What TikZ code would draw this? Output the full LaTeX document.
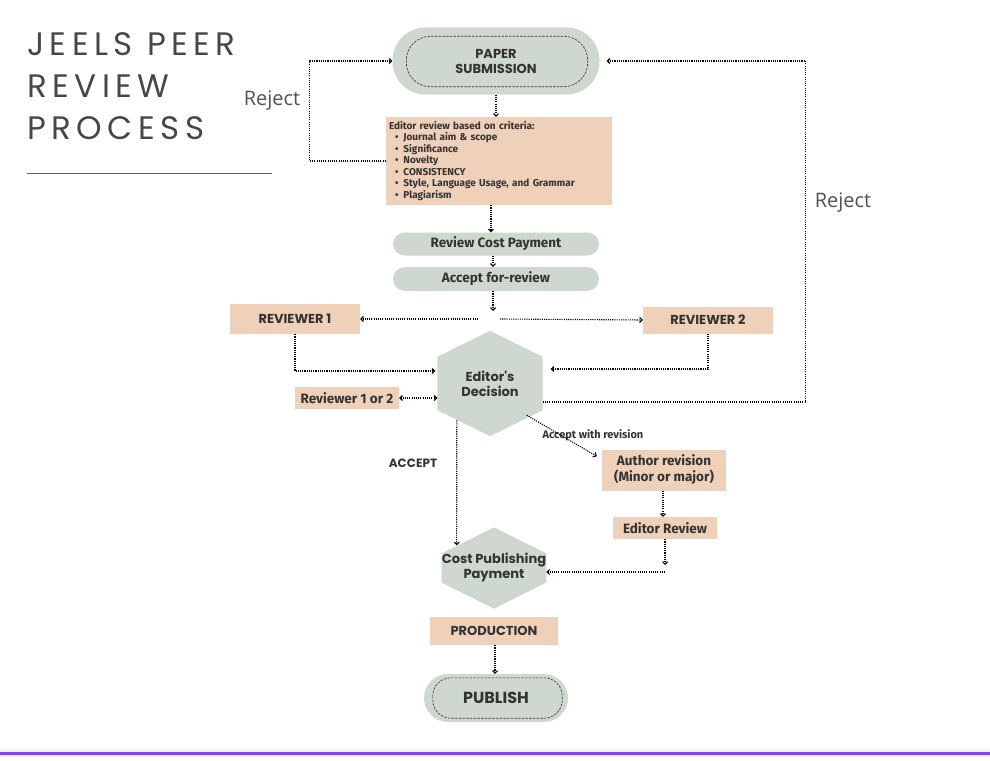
\documentclass[tikz,border=0pt]{standalone}
\usepackage{fontspec}
\setmainfont{Fira Sans}
\newfontfamily\headfont{Poppins}
\newfontfamily\titlefont{Poppins}[LetterSpace=17]
\newfontfamily\notefont{Open Sans}
\usetikzlibrary{positioning,arrows.meta,calc,backgrounds}
\definecolor{sage}{HTML}{CFD8CE}
\definecolor{peach}{HTML}{EFD0B8}
\definecolor{ink}{HTML}{333333}
\definecolor{rulecol}{HTML}{8B3CF7}
\newcommand\critdot{\hspace*{6pt}\textbullet\hspace{5pt}}

\begin{document}
\begin{tikzpicture}[x=1pt, y=-1pt,
		every node/.style={text=ink},
		box/.style={fill=peach, inner sep=2pt, align=center},
		pill/.style={fill=sage, rounded corners=#1, inner sep=2pt, align=center},
		hex/.style={inner sep=0pt, align=center},
		inner/.style={draw=ink, line width=.6pt, dash pattern=on 2.5pt off 1.2pt},
		arr/.style={-{Straight Barb[length=2.5pt,width=5pt]}, line width=1.1pt,
			dash pattern=on 1.1pt off 1.1pt, draw=black},
		lbl/.style={font=\notefont\fontsize{20}{24}\selectfont, text=ink!85},
		head/.style={font=\headfont\bfseries\fontsize{13}{15}\selectfont},
		body/.style={font=\bfseries\fontsize{13.5}{16}\selectfont}
		]
		\useasboundingbox (0,0) rectangle (990,760);
		\node[anchor=north west, inner sep=0pt, align=left, text=ink!90,
		font=\titlefont\fontsize{32.5}{42}\selectfont] (title) at (27,32)
		{JEELS PEER\\REVIEW\\PROCESS};
		\draw[ink!80, line width=1pt] (27,173) -- (272,173);
		\node[pill=33pt, minimum width=207, minimum height=67, head] (sub) at (496,61)
		{PAPER\\SUBMISSION};
		\draw[inner, rounded corners=24pt] ($(sub.north west)+(14,9)$)
		rectangle ($(sub.south east)+(-12,-8)$);
		\node[box, minimum width=226, minimum height=88, text width=220, align=left,
		font=\bfseries\fontsize{10}{11.5}\selectfont] (crit) at (499,161)
		{Editor review based on criteria:\\
			\critdot Journal aim \& scope\\
			\critdot Significance\\
			\critdot Novelty\\
			\critdot CONSISTENCY\\
			\critdot Style, Language Usage, and Grammar\\
			\critdot Plagiarism};
		\node[pill=11.5pt, minimum width=206, minimum height=23, body] (rcp) at (496,244)
		{Review Cost Payment};
		\node[pill=12pt, minimum width=206, minimum height=24, body] (afr) at (496,279)
		{Accept for-review};
		\coordinate (split) at (493,311);
		\coordinate (splitL) at (478,319);
		\coordinate (splitR) at (500,319);
		\node[box, minimum width=130, minimum height=30, head] (rev1) at (295,319) {REVIEWER 1};
		\node[box, minimum width=130, minimum height=27, head] (rev2) at (708,320) {REVIEWER 2};
		\node[hex, minimum width=105, minimum height=53, head] (dec) at (490,383.5)
		{Editor's\\Decision};
		\node[box, minimum width=104, minimum height=22, body] (rev12) at (347,398)
		{Reviewer 1 or 2};
		\node[box, minimum width=124, minimum height=41, body] (aut) at (664,470)
		{Author revision\\(Minor or major)};
		\node[box, minimum width=104, minimum height=22, body] (erv) at (665,528)
		{Editor Review};
		\node[hex, minimum width=104, minimum height=26, head] (cpp) at (494,568)
		{Cost Publishing\\Payment};
		\node[box, minimum width=128, minimum height=28, head] (prod) at (494,631)
		{PRODUCTION};
		\node[pill=24pt, minimum width=144, minimum height=48, head,
		font=\headfont\bfseries\fontsize{16}{18}\selectfont] (pub) at (496,698) {PUBLISH};
		\draw[inner, rounded corners=18pt] ($(pub.north west)+(9,4)$)
		rectangle ($(pub.south east)+(-6,-4)$);
		\begin{scope}[on background layer]
			\fill[sage] (dec.north west) -- ($(dec.north)+(0,-26)$) -- (dec.north east)
			-- (dec.south east) -- ($(dec.south)+(0,26)$) -- (dec.south west) -- cycle;
			\fill[sage] (cpp.north west) -- ($(cpp.north)+(0,-26)$) -- (cpp.north east)
			-- (cpp.south east) -- ($(cpp.south)+(0,26)$) -- (cpp.south west) -- cycle;
		\end{scope}
		\node[lbl] (rejL) at (272,101) {Reject};
		\node[lbl] (rejR) at (843,203) {Reject};
		\node[head, font=\headfont\bfseries\fontsize{12}{14}\selectfont] (acc) at (413,463) {ACCEPT};
		\node[font=\bfseries\fontsize{11}{13}\selectfont] (awr) at (593,435)
		{Accept with revision};
		% flow
		\draw[arr] (sub.south) -- (sub.south |- crit.north);
		\draw[arr] ($(crit.south)+(-8,0)$) -- ($(rcp.north)+(-5,0)$);
		\draw[arr] ($(rcp.south)+(-3,0)$) -- ($(afr.north)+(-3,0)$);
		\draw[arr] ($(afr.south)+(-3,0)$) -- (split);
		\draw[arr] (splitL) -- (rev1.east);
		\draw[arr] (splitR) -- (rev2.west);
		\draw[arr] (rev1.south) |- ($(dec.west)+(-2,-12.5)$);
		\draw[arr] (rev2.south) |- ($(dec.east)+(8,-14.5)$);
		\draw[arr, {Straight Barb[length=2.5pt,width=5pt]}-{Straight Barb[length=2.5pt,width=5pt]}]
		(rev12.east) -- (rev12.east -| dec.west);
		% reject loops
		\draw[arr] (crit.west) -- ++(-76,0) |- (sub.west);
		\draw[arr] ($(dec.east)+(0,18.5)$) -- ++(263,0) |- ($(sub.east)+(7,0)$);
		% decisions
		\draw[arr] ($(dec.south west)+(19.5,10)$) -- ($(cpp.north west)+(15,-8)$);
		\draw[arr] ($(dec.south east)+(-16,5)$) -- ($(aut.north west)+(-5,7)$);
		\draw[arr] ($(aut.south)+(-1,0)$) -- ($(erv.north)+(-2,0)$);
		\coordinate (join) at (665,572);
		\draw[arr] (erv.south) -- ($(join)+(0,-7)$);
		\draw[arr] (join) -- (join -| cpp.east);
		\draw[arr] ($(prod.south)+(1,0)$) -- ($(pub.north)+(-1,0)$);
		% bottom rule
		\draw[gray!12, line width=8pt] (0,753) -- (990,753);
		\draw[rulecol, line width=3pt] (0,753) -- (990,753);
	\end{tikzpicture}
\end{document}
